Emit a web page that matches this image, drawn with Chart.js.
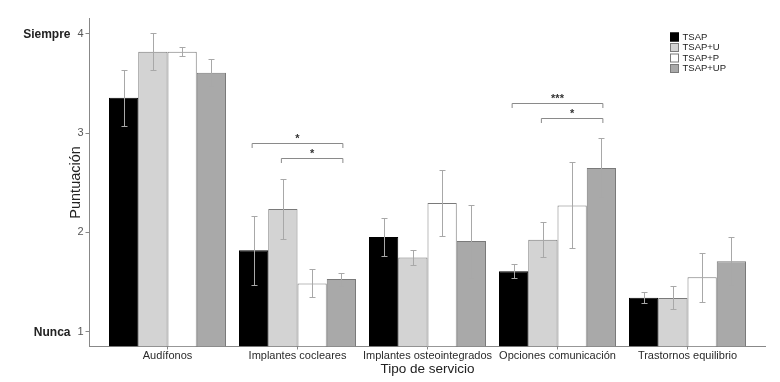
<!DOCTYPE html>
<html><head><meta charset="utf-8">
<script src="https://cdn.jsdelivr.net/npm/chart.js@4"></script>
<style>html,body{margin:0;padding:0;background:#fff}#wrap{position:relative;width:780px;height:382px}</style>
</head><body><div id="wrap"><canvas id="c" width="780" height="382"></canvas></div>
<script>
// ---- data ----
const categories = ['Audífonos','Implantes cocleares','Implantes osteointegrados','Opciones comunicación','Trastornos equilibrio'];
const seriesNames = ['TSAP','TSAP+U','TSAP+P','TSAP+UP'];
const tsap   = [3.357, 1.82, 1.954, 1.608, 1.342];
const tsapU  = [3.82, 2.236, 1.749, 1.927, 1.34];
const tsapP  = [3.82, 1.487, 2.296, 2.273, 1.548];
const tsapUP = [3.61, 1.53, 1.913, 2.649, 1.709];
// error bar bounds
const tsapHi   = [3.642, 2.17, 2.142, 1.679, 1.40];
const tsapLo   = [3.071, 1.47, 1.762, 1.538, 1.289];
const tsapUHi  = [4.005, 2.54, 1.826, 2.108, 1.457];
const tsapULo  = [3.642, 1.93, 1.675, 1.749, 1.229];
const tsapPHi  = [3.87, 1.63, 2.625, 2.706, 1.793];
const tsapPLo  = [3.78, 1.35, 1.964, 1.846, 1.299];
const tsapUPHi = [3.75, 1.59, 2.279, 2.948, 1.951];
const tsapUPLo = [3.48, 1.46, 1.544, 2.353, 1.467];
const yTicks = [1, 2, 3, 4];
const yAnchorLabels = [{value: 4, text: 'Siempre'}, {value: 1, text: 'Nunca'}];
// significance brackets: category index, from series, to series, level, label
const sigCat   = [1, 1, 3, 3];
const sigFrom  = [0, 1, 0, 1];
const sigTo    = [3, 3, 3, 3];
const sigLevel = [2.903, 2.752, 3.303, 3.155];
const sigLabel = ['*', '*', '***', '*'];

const seriesValues = [tsap, tsapU, tsapP, tsapUP];
const seriesHi = [tsapHi, tsapUHi, tsapPHi, tsapUPHi];
const seriesLo = [tsapLo, tsapULo, tsapPLo, tsapUPLo];

// ---- styles ----
const fills   = ['#000000', '#d3d3d3', '#ffffff', '#a9a9a9'];
const borders = ['#000000', '#7a7a7a', '#7a7a7a', '#7a7a7a'];
const FONT = '"Liberation Sans", Arial, Helvetica, sans-serif';
const Y_MIN = 0.851, Y_MAX = 4.158;

Chart.defaults.font.family = FONT;

const overlay = {
  id: 'overlay',
  afterDatasetsDraw(chart) {
    const ctx = chart.ctx, ys = chart.scales.y;
    ctx.save();
    // error bars
    ctx.strokeStyle = '#a8a8a8';
    ctx.lineWidth = 1;
    seriesNames.forEach((n, d) => {
      const meta = chart.getDatasetMeta(d);
      meta.data.forEach((bar, i) => {
        const x = Math.round(bar.x) + 0.5;
        const yh = Math.round(ys.getPixelForValue(seriesHi[d][i])) + 0.5;
        const yl = Math.round(ys.getPixelForValue(seriesLo[d][i])) + 0.5;
        ctx.beginPath();
        ctx.moveTo(x, yh); ctx.lineTo(x, yl);
        ctx.moveTo(x - 3, yh); ctx.lineTo(x + 3, yh);
        ctx.moveTo(x - 3, yl); ctx.lineTo(x + 3, yl);
        ctx.stroke();
      });
    });
    // significance brackets
    ctx.strokeStyle = '#8a8a8a';
    ctx.fillStyle = '#333';
    ctx.font = 'bold 11px ' + FONT;
    ctx.textAlign = 'center';
    ctx.textBaseline = 'alphabetic';
    sigCat.forEach((c, k) => {
      const x1 = chart.getDatasetMeta(sigFrom[k]).data[c].x - 1.5;
      const x2 = chart.getDatasetMeta(sigTo[k]).data[c].x + 1.5;
      const yl = Math.round(ys.getPixelForValue(sigLevel[k])) + 0.5;
      ctx.beginPath();
      ctx.moveTo(x1, yl + 4.5); ctx.lineTo(x1, yl); ctx.lineTo(x2, yl); ctx.lineTo(x2, yl + 4.5);
      ctx.stroke();
      ctx.fillText(sigLabel[k], (x1 + x2) / 2, yl - 1.5);
    });
    ctx.restore();
  },
  afterDraw(chart) {
    const ctx = chart.ctx, ys = chart.scales.y;
    ctx.save();
    // legend
    ctx.font = '9.5px ' + FONT;
    ctx.textAlign = 'left';
    ctx.textBaseline = 'middle';
    seriesNames.forEach((n, d) => {
      const top = 32.5 + d * 10.5;
      ctx.fillStyle = fills[d];
      ctx.fillRect(670, top, 9, 9);
      ctx.strokeStyle = borders[d];
      ctx.lineWidth = 1;
      ctx.strokeRect(670.5, top + 0.5, 8, 8);
      ctx.fillStyle = '#222';
      ctx.fillText(n, 682.5, top + 4.8);
    });
    // Siempre / Nunca
    ctx.font = 'bold 12px ' + FONT;
    ctx.textAlign = 'right';
    ctx.fillStyle = '#222';
    yAnchorLabels.forEach(a => ctx.fillText(a.text, 70.5, ys.getPixelForValue(a.value) + 0.5));
    // y title
    ctx.save();
    ctx.translate(76, (chart.chartArea.top + chart.chartArea.bottom) / 2);
    ctx.rotate(-Math.PI / 2);
    ctx.font = '14.5px ' + FONT;
    ctx.textAlign = 'center';
    ctx.textBaseline = 'middle';
    ctx.fillText('Puntuación', 0, 0);
    ctx.restore();
    // x title
    ctx.font = '13.5px ' + FONT;
    ctx.textAlign = 'center';
    ctx.textBaseline = 'alphabetic';
    ctx.fillText('Tipo de servicio', (chart.chartArea.left + chart.chartArea.right) / 2, 372.7);
    ctx.restore();
  }
};

new Chart(document.getElementById('c'), {
  type: 'bar',
  data: {
    datasets: seriesNames.map((n, d) => ({
      label: n,
      data: seriesValues[d].map((v, i) => ({x: i + 1, y: v})),
      backgroundColor: fills[d],
      borderColor: borders[d],
      borderWidth: 1,
      categoryPercentage: 0.9,
      barPercentage: 1,
      base: Y_MIN
    }))
  },
  options: {
    responsive: false,
    animation: false,
    devicePixelRatio: 1,
    layout: {padding: {top: 18.3, right: 14.5, left: 0, bottom: 0}},
    plugins: {legend: {display: false}, tooltip: {enabled: false}, title: {display: false}},
    scales: {
      x: {
        type: 'linear', min: 0.4, max: 5.6, offset: false,
        grid: {display: true, drawOnChartArea: false, drawTicks: true, tickLength: 3, color: '#888', offset: false},
        border: {display: true, color: '#888', width: 1},
        ticks: {color: '#2a2a2a', font: {size: 11}, padding: 0, autoSkip: false, maxRotation: 0,
                callback: (v) => categories[Math.round(v) - 1] || ''},
        afterBuildTicks: (s) => { s.ticks = categories.map((c, i) => ({value: i + 1})); },
        afterFit: (s) => { s.height = 35.5; }
      },
      y: {
        type: 'linear', min: Y_MIN, max: Y_MAX,
        grid: {display: true, drawOnChartArea: false, drawTicks: true, tickLength: 4, color: '#888'},
        border: {display: true, color: '#888', width: 1},
        ticks: {color: '#555', font: {size: 11}, padding: 2},
        afterBuildTicks: (s) => { s.ticks = yTicks.map(v => ({value: v})); },
        afterFit: (s) => { s.width = 89.5; }
      }
    }
  },
  plugins: [overlay]
});
</script></body></html>
